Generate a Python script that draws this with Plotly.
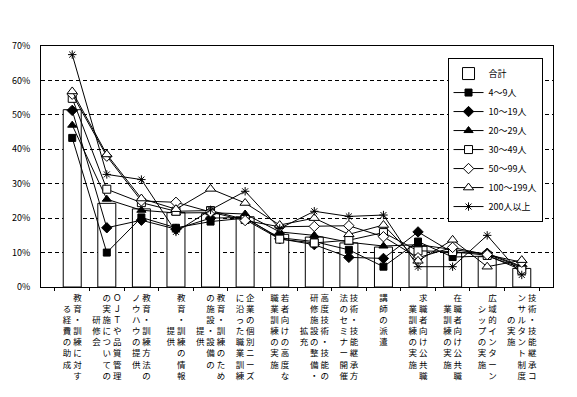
import plotly.graph_objects as go

categories = [
    "教育・訓練に対する経費の助成",
    "ＯＪＴや品質管理の実施についての研修会",
    "教育・訓練方法のノウハウの提供",
    "教育・訓練の情報提供",
    "教育・訓練のための施設・設備の提供",
    "企業の個別ニーズに沿った職業訓練",
    "若者向けの高度な職業訓練の実施",
    "高度技術・技能の研修施設の整備・拡充",
    "技術・技能継承方法のセミナー開催",
    "講師の派遣",
    "求職者向け公共職業訓練の実施",
    "在職者向け公共職業訓練の実施",
    "広域的インターンシップの実施",
    "技術・技能継承コンサルタント制度の実施",
]

# vertical (tategaki) columns of each tick label, in reading order (right to left)
label_columns = [
    ["教育・訓練に対す", "る経費の助成"],
    ["ＯＪＴや品質管理", "の実施についての", "研修会"],
    ["教育・訓練方法の", "ノウハウの提供"],
    ["教育・訓練の情報", "提供"],
    ["教育・訓練のため", "の施設・設備の", "提供"],
    ["企業の個別ニーズ", "に沿った職業訓練"],
    ["若者向けの高度な", "職業訓練の実施"],
    ["高度技術・技能の", "研修施設の整備・", "拡充"],
    ["技術・技能継承方", "法のセミナー開催"],
    ["講師の派遣"],
    ["求職者向け公共職", "業訓練の実施"],
    ["在職者向け公共職", "業訓練の実施"],
    ["広域的インターン", "シップの実施"],
    ["技術・技能継承コ", "ンサルタント制度", "の実施"],
]

y_ticks = [0, 10, 20, 30, 40, 50, 60, 70]
y_left_labels = ["0%", "10%", "20%", "30%", "40%", "50%", "60%", "70%"]
y_right_labels = ["0", "10", "20", "30", "40", "50", "60", "70"]

total = [51.5, 24.3, 22.7, 21.6, 21.3, 20.4, 15.3, 14.5, 12.8, 11.6, 11.8, 10.0, 8.8, 5.4]
size_4_9 = [43.3, 10.0, 20.2, 17.2, 19.0, 20.0, 14.3, 13.2, 10.8, 5.9, 13.2, 8.7, 9.0, 5.5]
size_10_19 = [51.3, 17.2, 19.4, 16.8, 20.0, 20.2, 14.0, 12.3, 8.6, 8.3, 16.0, 10.0, 9.8, 6.0]
size_20_29 = [47.0, 25.5, 22.3, 21.5, 21.6, 21.2, 16.0, 15.0, 13.0, 11.9, 12.3, 10.8, 9.5, 5.8]
size_30_49 = [54.8, 28.4, 24.5, 22.0, 22.2, 19.6, 13.9, 12.8, 13.6, 15.8, 10.5, 10.3, 9.2, 4.9]
size_50_99 = [56.0, 38.0, 25.0, 24.6, 21.8, 19.3, 17.5, 17.6, 17.8, 14.6, 8.5, 11.5, 9.4, 7.2]
size_100_199 = [56.8, 38.5, 25.7, 22.6, 28.5, 24.4, 18.0, 20.0, 15.3, 18.0, 7.6, 13.7, 5.9, 7.8]
size_200_plus = [67.5, 32.7, 31.2, 16.0, 22.4, 27.8, 17.0, 22.0, 20.5, 20.9, 5.9, 5.9, 15.0, 3.5]

series_names = ["4～9人", "10～19人", "20～29人", "30～49人", "50～99人", "100～199人", "200人以上"]
series_values = [size_4_9, size_10_19, size_20_29, size_30_49, size_50_99, size_100_199, size_200_plus]
series_styles = [
    ("square", "black", 7),
    ("diamond", "black", 8),
    ("triangle-up", "black", 8),
    ("square", "white", 8),
    ("diamond", "white", 8),
    ("triangle-up", "white", 9),
    ("asterisk-open", "black", 7),
]


def vertical_label(cols):
    n = max(len(c) for c in cols)
    padded = []
    for c in cols:
        off = (n - len(c)) // 2
        padded.append("\u3000" * off + c + "\u3000" * (n - len(c) - off))
    rows = []
    for i in range(n):
        rows.append(" ".join(p[i] for p in reversed(padded)))
    return "<br>".join(rows)


tick_text = [vertical_label(c) for c in label_columns]

FONT = "Noto Sans CJK JP, sans-serif"

fig = go.Figure()
fig.add_trace(go.Bar(
    x=categories, y=total, name="合計",
    marker=dict(color="white", line=dict(color="black", width=1)),
))
for name, vals, (sym, fill, size) in zip(series_names, series_values, series_styles):
    fig.add_trace(go.Scatter(
        x=categories, y=vals, name=name, mode="lines+markers",
        line=dict(color="black", width=1),
        marker=dict(symbol=sym, size=size, color=fill, line=dict(color="black", width=1)),
    ))

fig.update_layout(
    width=577, height=397,
    margin=dict(l=39, r=24, t=46, b=110),
    paper_bgcolor="white", plot_bgcolor="white",
    font=dict(family=FONT, size=9, color="black"),
    bargap=0.48,
    showlegend=True,
    legend=dict(
        x=0.794, y=0.95, xanchor="left", yanchor="top",
        bordercolor="black", borderwidth=1, bgcolor="white",
        font=dict(family=FONT, size=9, color="black"),
        traceorder="normal", itemwidth=30,
    ),
    xaxis=dict(
        type="category", tickmode="array", tickvals=categories, ticktext=tick_text,
        tickson="boundaries", ticks="outside", ticklen=3, tickcolor="black",
        showline=True, mirror=True, linecolor="black", linewidth=1,
        showgrid=False, tickangle=0, ticklabelstandoff=3,
        tickfont=dict(family=FONT, size=8.5, color="black"),
    ),
    yaxis=dict(
        range=[0, 70], tickmode="array", tickvals=y_ticks, ticktext=y_left_labels,
        showgrid=True, gridcolor="black", gridwidth=1, griddash="4px,3px",
        showline=True, mirror=True, linecolor="black", linewidth=1,
        ticks="", zeroline=False, ticklabelstandoff=8,
        tickfont=dict(family=FONT, size=9, color="black"),
    ),
    yaxis2=dict(
        overlaying="y", side="right", anchor="x", range=[0, 70],
        tickmode="array", tickvals=y_ticks, ticktext=y_right_labels,
        showgrid=False, zeroline=False, showline=False, ticks="",
        ticklabelstandoff=5,
        tickfont=dict(family=FONT, size=9, color="black"),
    ),
)

fig.write_html(
    "out.html",
    config={"displayModeBar": False},
    post_script="document.body.style.margin='0';document.body.style.overflow='hidden';",
)
